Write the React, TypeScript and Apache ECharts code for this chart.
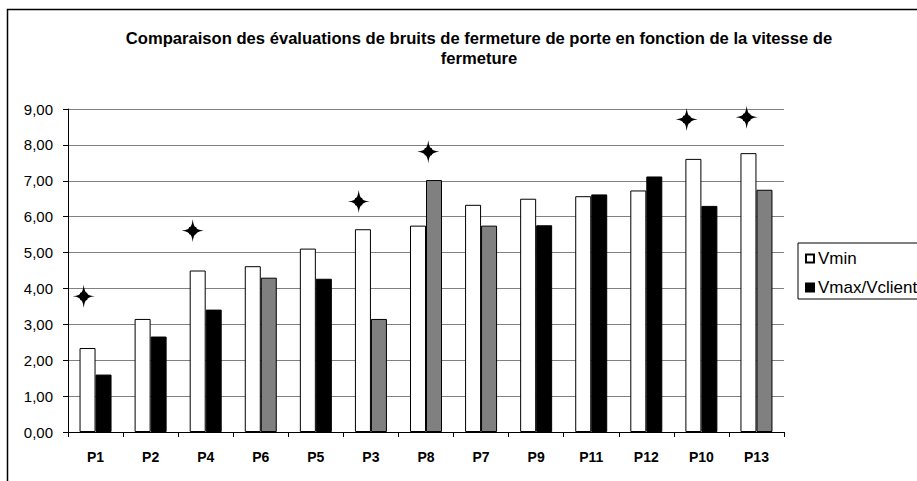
import React, { useEffect, useRef } from 'react';
import * as echarts from 'echarts';

const categories = ['P1', 'P2', 'P4', 'P6', 'P5', 'P3', 'P8', 'P7', 'P9', 'P11', 'P12', 'P10', 'P13'];
const vminValues = [2.34, 3.15, 4.5, 4.62, 5.11, 5.65, 5.75, 6.33, 6.5, 6.57, 6.73, 7.61, 7.77];
const vmaxValues = [1.6, 2.66, 3.41, 4.3, 4.27, 3.15, 7.02, 5.75, 5.76, 6.62, 7.12, 6.3, 6.75];
// true where the second bar is drawn grey instead of black
const greyBars = [false, false, false, true, false, true, true, true, false, false, false, false, true];
// star markers (x in category units from the left edge of the plot, y in axis units)
const starX = [0.285, 2.264, 5.278, 6.541, 11.233, 12.322];
const starY = [3.78, 5.61, 6.42, 7.81, 8.71, 8.77];

const titleText =
  'Comparaison des évaluations de bruits de fermeture de porte en fonction de la vitesse de\nfermeture';
const FONT = '"Liberation Sans", Arial, sans-serif';
const STAR =
  'path://M0,-11 Q1,-3 3.5,-3.5 Q3,-1 11,0 Q3,1 3.5,3.5 Q1,3 0,11 Q-1,3 -3.5,3.5 Q-3,1 -11,0 Q-3,-1 -3.5,-3.5 Q-1,-3 0,-11 Z';

export default function App() {
  const ref = useRef<HTMLDivElement>(null);
  useEffect(() => {
    if (!ref.current) return;
    const chart = echarts.init(ref.current, undefined, { renderer: 'svg' });
    chart.setOption({
      animation: false,
      backgroundColor: '#ffffff',
      title: {
        text: titleText,
        left: 474,
        top: 23,
        textAlign: 'center',
        textStyle: { fontFamily: FONT, fontSize: 16.6, fontWeight: 'bold', color: '#000', lineHeight: 20 },
      },
      graphic: [
        {
          type: 'rect',
          shape: { x: 7.5, y: 9.5, width: 1000, height: 600 },
          style: { fill: 'none', stroke: '#000', lineWidth: 1.5 },
          silent: true,
        },
      ],
      legend: {
        orient: 'vertical',
        left: 798,
        top: 243,
        width: 200,
        data: ['Vmin', 'Vmax/Vclient'],
        icon: 'rect',
        itemWidth: 8,
        itemHeight: 8,
        itemGap: 12,
        padding: [7, 40, 3, 7],
        borderColor: '#000',
        borderWidth: 1,
        backgroundColor: '#fff',
        textStyle: { fontFamily: FONT, fontSize: 17, color: '#000', padding: [0, 0, 0, -1] },
      },
      grid: { left: 68, right: 133, top: 109, bottom: 49 },
      xAxis: [
        {
          type: 'category',
          data: categories,
          axisLine: { lineStyle: { color: '#000', width: 1 } },
          axisTick: { show: true, length: 5, interval: 0, lineStyle: { color: '#000' } },
          axisLabel: {
            interval: 0,
            margin: 18,
            fontFamily: FONT,
            fontSize: 14,
            fontWeight: 'bold',
            color: '#000',
          },
          splitLine: { show: false },
        },
        { type: 'value', min: 0, max: 13, show: false },
      ],
      yAxis: {
        type: 'value',
        min: 0,
        max: 9,
        interval: 1,
        axisLine: { show: true, lineStyle: { color: '#000', width: 1 } },
        axisTick: { show: true, length: 5, lineStyle: { color: '#000' } },
        axisLabel: {
          margin: 15,
          fontFamily: FONT,
          fontSize: 15,
          color: '#000',
          formatter: (v: number) => v.toFixed(2).replace('.', ','),
        },
        splitLine: { show: true, lineStyle: { color: '#808080', width: 1 } },
      },
      series: [
        {
          name: 'Vmin',
          type: 'bar',
          data: vminValues,
          barWidth: 16,
          barGap: '0%',
          itemStyle: { color: '#fff', borderColor: '#000', borderWidth: 1 },
        },
        {
          name: 'Vmax/Vclient',
          type: 'bar',
          data: vmaxValues.map((v, i) => ({
            value: v,
            itemStyle: { color: greyBars[i] ? '#808080' : '#000' },
          })),
          barWidth: 16,
          barGap: '0%',
          itemStyle: { color: '#000', borderColor: '#000', borderWidth: 1 },
        },
        {
          name: 'stars',
          type: 'scatter',
          xAxisIndex: 1,
          data: starX.map((x, i) => [x, starY[i]]),
          symbol: STAR,
          symbolSize: [22, 23],
          itemStyle: { color: '#000', opacity: 1 },
        },
      ],
    });
    return () => chart.dispose();
  }, []);
  return <div ref={ref} style={{ position: 'fixed', left: 0, top: 0, width: 917, height: 481 }} />;
}
